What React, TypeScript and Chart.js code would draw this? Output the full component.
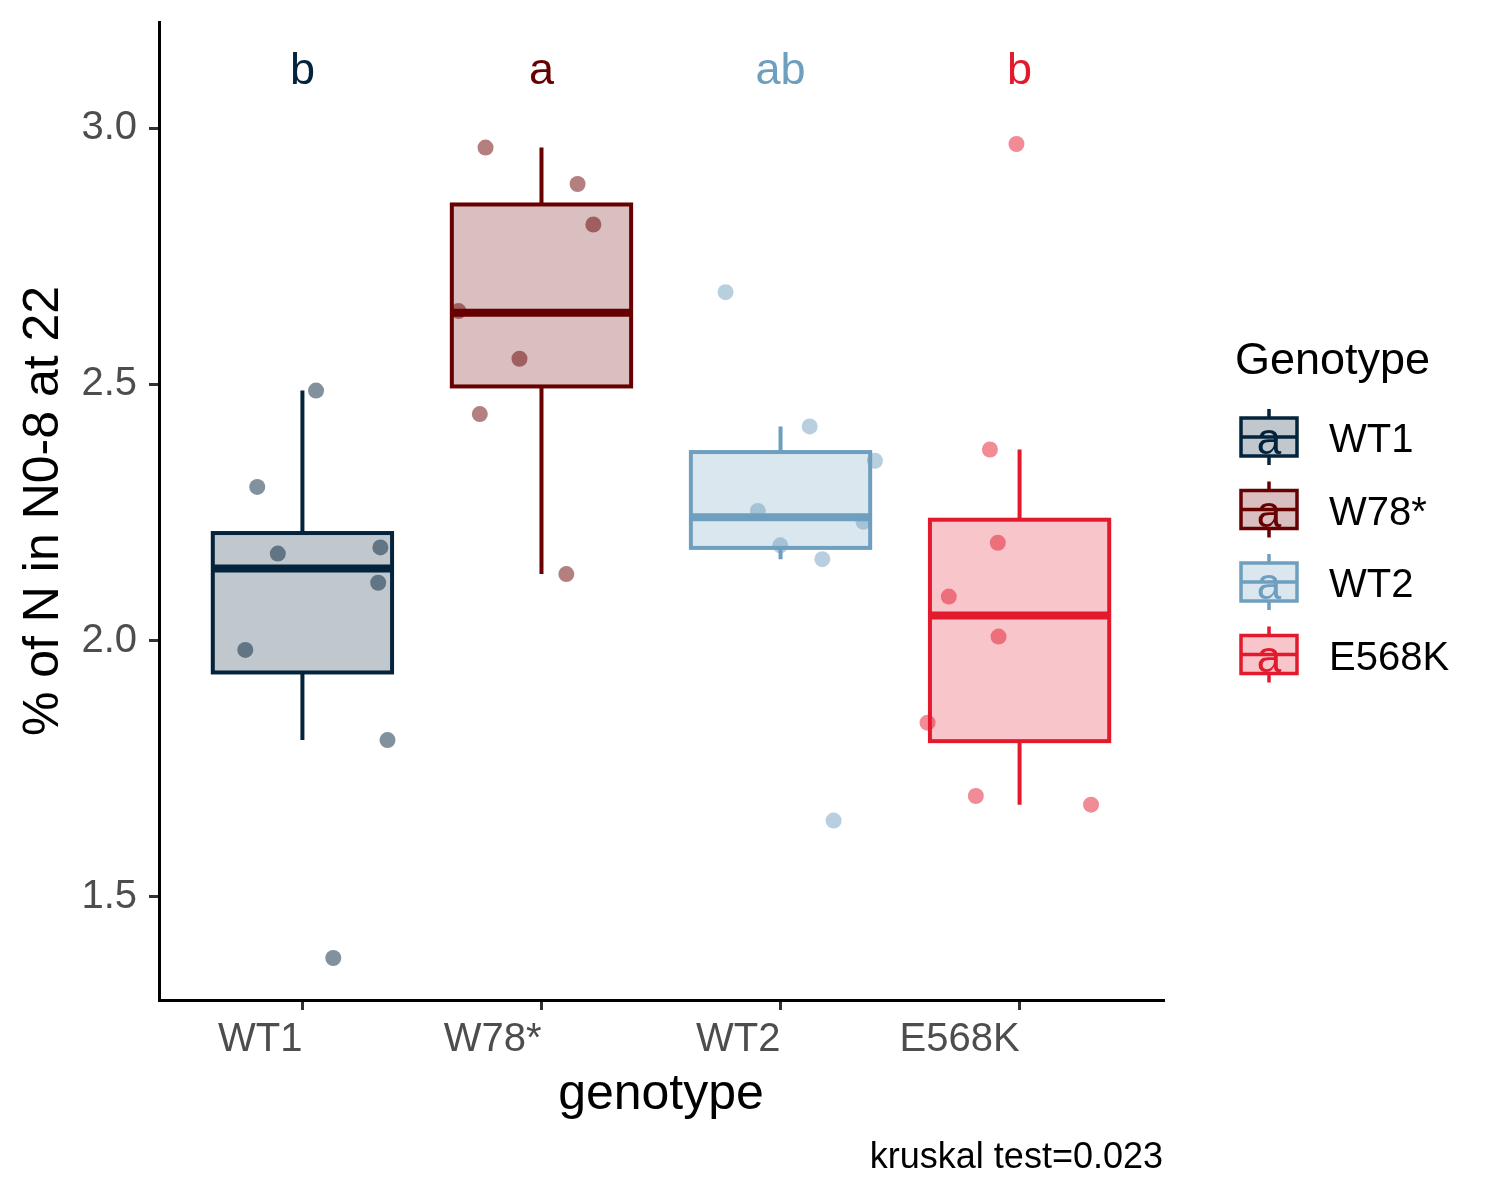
import { useEffect, useRef } from "react"
import { Chart, registerables } from "chart.js"

Chart.register(...registerables)

const FONT = "'Liberation Sans', Arial, Helvetica, sans-serif"

// categories and colours
const genotypes = ["WT1", "W78*", "WT2", "E568K"]
const lineColors = ["#03243C", "#670000", "#6F9FBF", "#E31A2D"]
const fillColors = ["rgba(3,36,60,0.25)", "rgba(103,0,0,0.25)", "rgba(111,159,191,0.25)", "rgba(227,26,45,0.25)"]
const pointColors = ["rgba(3,36,60,0.5)", "rgba(103,0,0,0.5)", "rgba(111,159,191,0.5)", "rgba(227,26,45,0.5)"]

// significance letters above each box
const letters = ["b", "a", "ab", "b"]
const letterY = 3.11

// box statistics
const q1 = [1.938, 2.496, 2.181, 1.804]
const medians = [2.141, 2.64, 2.241, 2.049]
const q3 = [2.21, 2.851, 2.368, 2.236]
const whiskerLow = [1.806, 2.13, 2.159, 1.68]
const whiskerHigh = [2.488, 2.962, 2.418, 2.373]

// jittered observations (x = category position + jitter)
const wt1X = [1.057, 0.811, 0.897, 1.326, 1.317, 0.761, 1.356, 1.129]
const wt1Y = [2.488, 2.3, 2.17, 2.182, 2.113, 1.982, 1.806, 1.381]
const w78X = [1.766, 2.151, 2.217, 1.653, 1.908, 1.742, 2.104]
const w78Y = [2.962, 2.891, 2.812, 2.643, 2.55, 2.442, 2.13]
const wt2X = [2.77, 3.122, 3.395, 2.905, 3.347, 2.999, 3.175, 3.222]
const wt2Y = [2.68, 2.418, 2.351, 2.253, 2.232, 2.186, 2.159, 1.649]
const e568X = [3.987, 3.876, 3.909, 3.704, 3.912, 3.615, 3.817, 4.299]
const e568Y = [2.969, 2.373, 2.191, 2.086, 2.008, 1.84, 1.697, 1.68]

const pointsX = [wt1X, w78X, wt2X, e568X]
const pointsY = [wt1Y, w78Y, wt2Y, e568Y]

const yTicks = [1.5, 2.0, 2.5, 3.0]
const yMin = 1.299
const yMax = 3.207

const boxHalf = 0.375

const boxPlugin = {
  id: "boxplot",
  afterDatasetsDraw(chart: any) {
    const { ctx, scales } = chart
    const x = scales.x
    const y = scales.y
    ctx.save()
    genotypes.forEach((_, i) => {
      const c = i + 1
      const left = x.getPixelForValue(c - boxHalf)
      const right = x.getPixelForValue(c + boxHalf)
      const mid = x.getPixelForValue(c)
      const top = y.getPixelForValue(q3[i])
      const bottom = y.getPixelForValue(q1[i])
      ctx.strokeStyle = lineColors[i]
      ctx.lineCap = "butt"
      // whiskers
      ctx.lineWidth = 4
      ctx.beginPath()
      ctx.moveTo(mid, top)
      ctx.lineTo(mid, y.getPixelForValue(whiskerHigh[i]))
      ctx.moveTo(mid, bottom)
      ctx.lineTo(mid, y.getPixelForValue(whiskerLow[i]))
      ctx.stroke()
      // box
      ctx.fillStyle = fillColors[i]
      ctx.fillRect(left, top, right - left, bottom - top)
      ctx.strokeRect(left, top, right - left, bottom - top)
      // median
      ctx.lineWidth = 8
      ctx.beginPath()
      ctx.moveTo(left, y.getPixelForValue(medians[i]))
      ctx.lineTo(right, y.getPixelForValue(medians[i]))
      ctx.stroke()
    })
    ctx.restore()
  },
  afterDraw(chart: any) {
    const { ctx, scales, chartArea } = chart
    const x = scales.x
    const y = scales.y
    ctx.save()
    // letters
    ctx.font = `45px ${FONT}`
    ctx.textAlign = "center"
    ctx.textBaseline = "middle"
    letters.forEach((l, i) => {
      ctx.fillStyle = lineColors[i]
      ctx.fillText(l, x.getPixelForValue(i + 1), y.getPixelForValue(letterY))
    })
    // caption
    ctx.font = `36px ${FONT}`
    ctx.fillStyle = "#000"
    ctx.textAlign = "right"
    ctx.fillText("kruskal test=0.023", chartArea.right, 1158)
    // legend
    const lx = chartArea.right + 72
    ctx.textAlign = "left"
    ctx.font = `45px ${FONT}`
    ctx.fillText("Genotype", lx, 362)
    genotypes.forEach((g, i) => {
      const cy = 437 + i * 72.5
      const kx = lx + 6
      const kw = 56
      const kc = kx + kw / 2
      ctx.strokeStyle = lineColors[i]
      ctx.lineWidth = 3.5
      ctx.beginPath()
      ctx.moveTo(kc, cy - 28)
      ctx.lineTo(kc, cy - 19)
      ctx.moveTo(kc, cy + 19)
      ctx.lineTo(kc, cy + 28)
      ctx.stroke()
      ctx.fillStyle = fillColors[i]
      ctx.fillRect(kx, cy - 19, kw, 38)
      ctx.strokeRect(kx, cy - 19, kw, 38)
      ctx.beginPath()
      ctx.moveTo(kx, cy)
      ctx.lineTo(kx + kw, cy)
      ctx.stroke()
      ctx.fillStyle = lineColors[i]
      ctx.textAlign = "center"
      ctx.font = `44px ${FONT}`
      ctx.fillText("a", kc, cy + 5)
      ctx.fillStyle = "#000"
      ctx.textAlign = "left"
      ctx.font = `40px ${FONT}`
      ctx.fillText(g, lx + 94, cy + 4)
    })
    ctx.restore()
  },
}

export default function App() {
  const chartRef = useRef<HTMLCanvasElement>(null)
  const chartInstance = useRef<Chart | null>(null)

  useEffect(() => {
    document.body.style.margin = "0"
    if (!chartRef.current) return
    if (chartInstance.current) chartInstance.current.destroy()
    const ctx = chartRef.current.getContext("2d")
    if (!ctx) return

    const datasets = genotypes.map((g, i) => ({
      label: g,
      data: pointsX[i].map((px, j) => ({ x: px, y: pointsY[i][j] })),
      backgroundColor: pointColors[i],
      borderWidth: 0,
      pointRadius: 8,
      pointHoverRadius: 8,
    }))

    chartInstance.current = new Chart(ctx, {
      type: "scatter",
      data: { datasets },
      options: {
        animation: false,
        responsive: false,
        devicePixelRatio: 1,
        layout: { padding: { top: 22, right: 337, bottom: 0, left: 0 } },
        plugins: {
          legend: { display: false },
          tooltip: { enabled: false },
        },
        scales: {
          x: {
            type: "linear",
            min: 0.4,
            max: 4.6,
            afterBuildTicks: (s: any) => {
              s.ticks = genotypes.map((_, i) => ({ value: i + 1 }))
            },
            afterFit: (s: any) => {
              s.height = 200
              s.paddingLeft = 0
              s.paddingRight = 0
            },
            ticks: {
              callback: (v: any) => genotypes[Number(v) - 1],
              align: "end",
              autoSkip: false,
              maxRotation: 0,
              padding: 6,
              color: "#4D4D4D",
              font: { family: FONT, size: 40 },
            },
            grid: { drawOnChartArea: false, drawTicks: true, tickLength: 10, color: "#333333", lineWidth: 3 },
            border: { display: true, color: "#000", width: 3 },
            title: {
              display: true,
              text: "genotype",
              color: "#000",
              font: { family: FONT, size: 50, lineHeight: 1 },
              padding: { top: 0, bottom: 80 },
            },
          },
          y: {
            type: "linear",
            min: yMin,
            max: yMax,
            afterBuildTicks: (s: any) => {
              s.ticks = yTicks.map((v) => ({ value: v }))
            },
            afterFit: (s: any) => {
              s.width = 159
              s.paddingTop = 0
              s.paddingBottom = 0
            },
            ticks: {
              callback: (v: any) => Number(v).toFixed(1),
              padding: 12,
              color: "#4D4D4D",
              font: { family: FONT, size: 40 },
            },
            grid: { drawOnChartArea: false, drawTicks: true, tickLength: 10, color: "#333333", lineWidth: 3 },
            border: { display: true, color: "#000", width: 3 },
            title: {
              display: true,
              text: "% of N in N0-8 at 22",
              color: "#000",
              font: { family: FONT, size: 50, lineHeight: 1 },
              padding: { top: 19, bottom: 0 },
            },
          },
        },
      },
      plugins: [boxPlugin],
    } as any)

    return () => {
      if (chartInstance.current) {
        chartInstance.current.destroy()
        chartInstance.current = null
      }
    }
  }, [])

  return (
    <div style={{ width: 1500, height: 1200, background: "#fff" }}>
      <canvas ref={chartRef} width={1500} height={1200} style={{ width: 1500, height: 1200 }} />
    </div>
  )
}
